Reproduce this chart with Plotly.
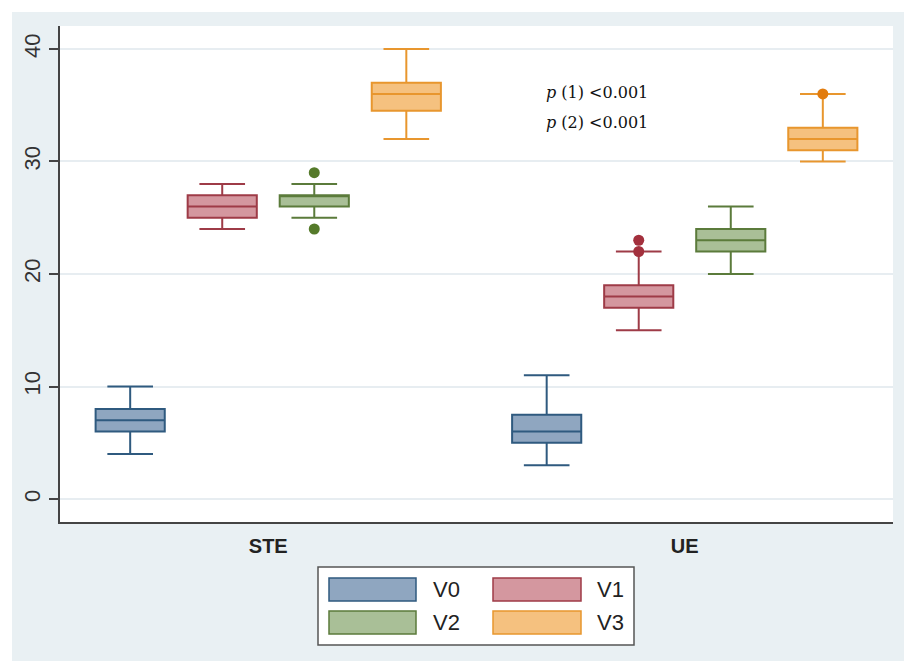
import plotly.graph_objects as go

# ---------------- data ----------------
groups = ["STE", "UE"]
series = ["V0", "V1", "V2", "V3"]

lower_fence = {"V0": [4, 3],   "V1": [24, 15], "V2": [25, 20],   "V3": [32, 30]}
q1_vals     = {"V0": [6, 5],   "V1": [25, 17], "V2": [26, 22],   "V3": [34.5, 31]}
median_vals = {"V0": [7, 6],   "V1": [26, 18], "V2": [27, 23],   "V3": [36, 32]}
q3_vals     = {"V0": [8, 7.5], "V1": [27, 19], "V2": [27, 24],   "V3": [37, 33]}
upper_fence = {"V0": [10, 11], "V1": [28, 22], "V2": [28, 26],   "V3": [40, 36]}

# outliers: (group index, value)
outliers = {
    "V0": [],
    "V1": [(1, 22), (1, 23)],
    "V2": [(0, 29), (0, 24)],
    "V3": [(1, 36)],
}

y_ticks = [0, 10, 20, 30, 40]
annot_lines = ["<i>p</i> (1) &lt;0.001", "<i>p</i> (2) &lt;0.001"]

# ---------------- styles ----------------
line_col = {"V0": "#2f5a7f", "V1": "#9e3b47", "V2": "#5b7b3b", "V3": "#e8962e"}
fill_col = {"V0": "#8fa6c0", "V1": "#d4979f", "V2": "#a9bf97", "V3": "#f5c17f"}
pt_col   = {"V0": "#2f5a7f", "V1": "#a3303d", "V2": "#557a2a", "V3": "#e27c0e"}

FIG_W, FIG_H = 904, 661
ML, MR, MT, MB = 60, 11, 26, 139
PW = FIG_W - ML - MR
PH = FIG_H - MT - MB
PANEL = "#e9f0f3"

slot = 0.221
offsets = [(-1.5 + i) * slot for i in range(len(series))]
box_w = 0.166

fig = go.Figure()

for i, s in enumerate(series):
    xs = [g + offsets[i] for g in range(len(groups))]
    fig.add_trace(go.Box(
        x=xs,
        q1=q1_vals[s], median=median_vals[s], q3=q3_vals[s],
        lowerfence=lower_fence[s], upperfence=upper_fence[s],
        width=box_w, whiskerwidth=0.66,
        fillcolor=fill_col[s],
        line=dict(color=line_col[s], width=2),
        boxpoints=False, name=s, showlegend=False, hoverinfo="skip",
    ))
    if outliers[s]:
        fig.add_trace(go.Scatter(
            x=[gi + offsets[i] for gi, _ in outliers[s]],
            y=[v for _, v in outliers[s]],
            mode="markers",
            marker=dict(color=pt_col[s], size=11),
            showlegend=False, hoverinfo="skip",
        ))

def px_x(px):
    return (px - ML) / PW

def px_y(py):
    return (MT + PH - py) / PH

shapes = []
annotations = []

# white outer border strips (top and left)
shapes.append(dict(type="rect", xref="paper", yref="paper", layer="above",
                   x0=px_x(0), x1=px_x(FIG_W), y0=px_y(12), y1=px_y(0),
                   fillcolor="white", line=dict(width=0)))
shapes.append(dict(type="rect", xref="paper", yref="paper", layer="above",
                   x0=px_x(0), x1=px_x(12), y0=px_y(FIG_H), y1=px_y(0),
                   fillcolor="white", line=dict(width=0)))

# manual legend
shapes.append(dict(type="rect", xref="paper", yref="paper",
                   x0=px_x(318), x1=px_x(634), y0=px_y(645), y1=px_y(567),
                   fillcolor="white", line=dict(color="#555555", width=1.5)))
sw_x = [(329, 416, 431), (493, 581, 595)]
row_y = [(578, 601), (611, 634)]
for i, s in enumerate(series):
    r, c = divmod(i, 2)
    x0, x1, tx = sw_x[c]
    y0, y1 = row_y[r]
    shapes.append(dict(type="rect", xref="paper", yref="paper",
                       x0=px_x(x0), x1=px_x(x1), y0=px_y(y1), y1=px_y(y0),
                       fillcolor=fill_col[s], line=dict(color=line_col[s], width=1.5)))
    annotations.append(dict(xref="paper", yref="paper", x=px_x(tx), y=px_y((y0 + y1) / 2),
                            text=s, showarrow=False, xanchor="left", yanchor="middle",
                            font=dict(family="Liberation Sans, Arial", size=22, color="#222222")))

# p-value annotations
for k, t in enumerate(annot_lines):
    annotations.append(dict(xref="paper", yref="paper", x=px_x(544), y=px_y(92 + 30 * k),
                            text=t, showarrow=False, xanchor="left", yanchor="middle",
                            font=dict(family="DejaVu Serif, Liberation Serif, serif",
                                      size=16, color="#111111")))

fig.update_layout(
    width=FIG_W, height=FIG_H,
    margin=dict(l=ML, r=MR, t=MT, b=MB, pad=0, autoexpand=False),
    paper_bgcolor=PANEL, plot_bgcolor="white",
    boxmode="overlay",
    showlegend=False,
    shapes=shapes, annotations=annotations,
    xaxis=dict(
        range=[-0.5, len(groups) - 0.5],
        tickmode="array", tickvals=list(range(len(groups))), ticktext=groups,
        showgrid=False, zeroline=False,
        showline=True, linecolor="#444444", linewidth=1.5,
        ticks="", ticklabelstandoff=5,
        tickfont=dict(family="Liberation Sans, Arial", size=20, color="#222222", weight="bold"),
    ),
    yaxis=dict(
        range=[-2.04, 42.04],
        tickmode="array", tickvals=y_ticks,
        showgrid=True, gridcolor="#e7edf1", gridwidth=1.5,
        zeroline=False,
        showline=True, linecolor="#444444", linewidth=1.5,
        ticks="outside", ticklen=9, tickwidth=1.5, tickcolor="#444444",
        tickangle=-90,
        tickfont=dict(family="Liberation Sans, Arial", size=22, color="#333333"),
    ),
)

post = (
    "document.body.style.margin='0';"
    "document.body.style.overflow='hidden';"
    f"document.body.style.background='{PANEL}';"
    f"document.documentElement.style.background='{PANEL}';"
)
fig.write_html("out.html", config={"displayModeBar": False}, post_script=post)
